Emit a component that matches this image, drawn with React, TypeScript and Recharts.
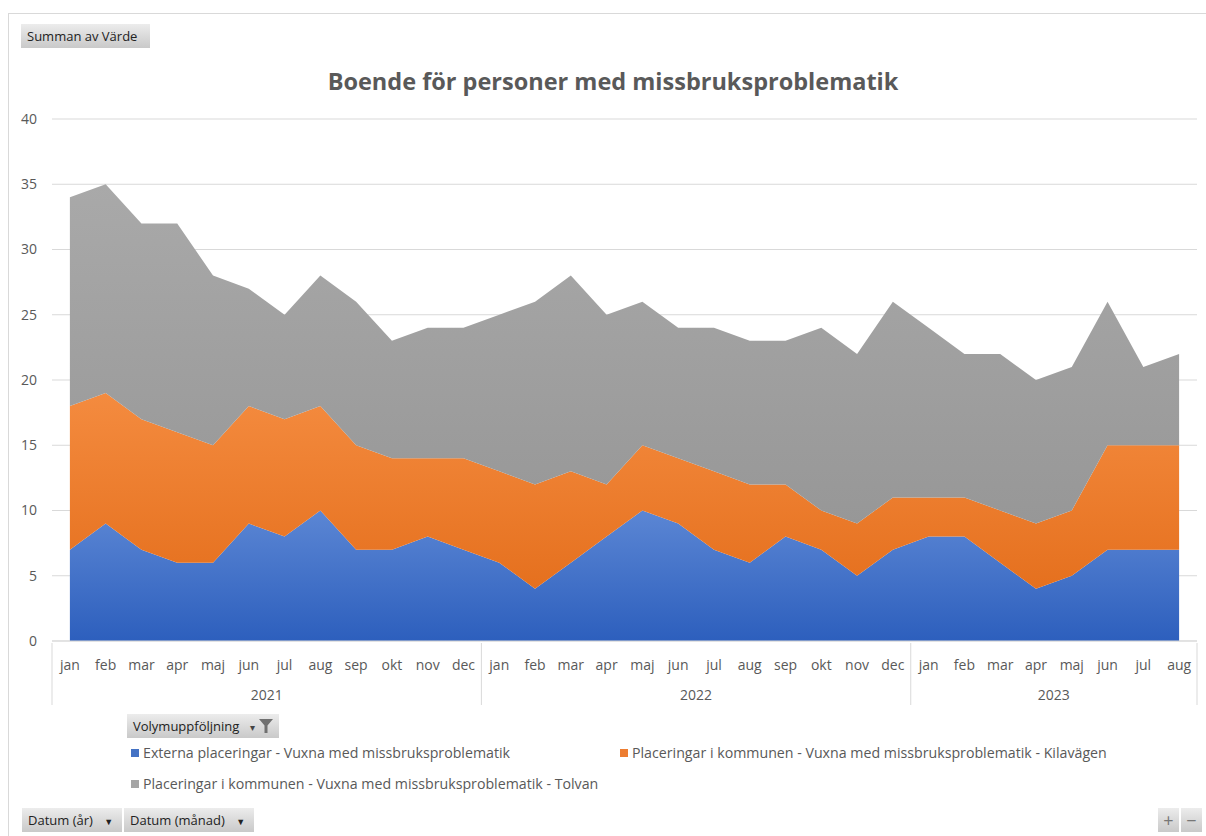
import React from "react";
import { AreaChart, Area, XAxis, YAxis, CartesianGrid } from "recharts";

// Month / year categories
const months = [
  "jan", "feb", "mar", "apr", "maj", "jun", "jul", "aug", "sep", "okt", "nov", "dec",
  "jan", "feb", "mar", "apr", "maj", "jun", "jul", "aug", "sep", "okt", "nov", "dec",
  "jan", "feb", "mar", "apr", "maj", "jun", "jul", "aug",
];
const years = [
  "2021", "2021", "2021", "2021", "2021", "2021", "2021", "2021", "2021", "2021", "2021", "2021",
  "2022", "2022", "2022", "2022", "2022", "2022", "2022", "2022", "2022", "2022", "2022", "2022",
  "2023", "2023", "2023", "2023", "2023", "2023", "2023", "2023",
];

// Series values (per series, stacked in the chart)
const externa = [7, 9, 7, 6, 6, 9, 8, 10, 7, 7, 8, 7, 6, 4, 6, 8, 10, 9, 7, 6, 8, 7, 5, 7, 8, 8, 6, 4, 5, 7, 7, 7];
const kilavagen = [11, 10, 10, 10, 9, 9, 9, 8, 8, 7, 6, 7, 7, 8, 7, 4, 5, 5, 6, 6, 4, 3, 4, 4, 3, 3, 4, 5, 5, 8, 8, 8];
const tolvan = [16, 16, 15, 16, 13, 9, 8, 10, 11, 9, 10, 10, 12, 14, 15, 13, 11, 10, 11, 11, 11, 14, 13, 15, 13, 11, 12, 11, 11, 11, 6, 7];

const yTicks = [0, 5, 10, 15, 20, 25, 30, 35, 40];

const seriesNames = {
  externa: "Externa placeringar - Vuxna med missbruksproblematik",
  kilavagen: "Placeringar i kommunen - Vuxna med missbruksproblematik - Kilavägen",
  tolvan: "Placeringar i kommunen - Vuxna med missbruksproblematik - Tolvan",
};

const data = months.map((m, i) => ({
  month: m,
  year: years[i],
  externa: externa[i],
  kilavagen: kilavagen[i],
  tolvan: tolvan[i],
}));

// plot area layout
const PLOT_LEFT = 52;
const PLOT_RIGHT = 1197;
const PLOT_TOP = 119;
const PLOT_BOTTOM = 641;
const STEP = (PLOT_RIGHT - PLOT_LEFT) / months.length;
const Y_AXIS_W = 40;
const X_AXIS_H = 62;

const FONT = "'Open Sans', 'Noto Sans', sans-serif";
const TEXT = "#595959";

const MonthTick = (props: any) => {
  const { x, y, payload } = props;
  const i = payload.index;
  const yr = years[i];
  const first = i === 0 || years[i - 1] !== yr;
  const last = i === years.length - 1;
  const count = years.filter((v) => v === yr).length;
  return (
    <g>
      <text x={x} y={y + 21} textAnchor="middle" dominantBaseline="central" fill={TEXT} fontSize={14} fontFamily={FONT}>
        {payload.value}
      </text>
      {first && (
        <>
          <line x1={x - STEP / 2} x2={x - STEP / 2} y1={y} y2={y + X_AXIS_H} stroke="#d9d9d9" />
          <text
            x={x + ((count - 1) * STEP) / 2}
            y={y + 51}
            textAnchor="middle"
            dominantBaseline="central"
            fill={TEXT}
            fontSize={14}
            fontFamily={FONT}
          >
            {yr}
          </text>
        </>
      )}
      {last && <line x1={x + STEP / 2} x2={x + STEP / 2} y1={y} y2={y + X_AXIS_H} stroke="#d9d9d9" />}
    </g>
  );
};

const btn: React.CSSProperties = {
  position: "absolute",
  background: "linear-gradient(#ececec, #c9c9c9)",
  fontFamily: FONT,
  fontSize: 13,
  color: "#222",
  height: 24,
  lineHeight: "24px",
  padding: "0 6px",
  boxSizing: "border-box",
  whiteSpace: "nowrap",
};

const legendItem = (color: string, label: string, left: number, top: number) => (
  <div
    style={{
      position: "absolute",
      left,
      top,
      fontFamily: FONT,
      fontSize: 14.2,
      color: TEXT,
      whiteSpace: "nowrap",
      display: "flex",
      alignItems: "center",
    }}
  >
    <span style={{ display: "inline-block", width: 8, height: 8, background: color, marginRight: 4 }} />
    {label}
  </div>
);

const App = () => {
  return (
    <div style={{ position: "fixed", left: 0, top: 0, width: 1206, height: 836, background: "#fff", overflow: "hidden" }}>
      {/* frame */}
      <div style={{ position: "absolute", left: 8, top: 13, width: 1198, height: 840, borderTop: "1px solid #d9d9d9", borderLeft: "1px solid #d9d9d9" }} />

      <div style={{ ...btn, left: 21, top: 24, width: 129 }}>Summan av Värde</div>

      <div
        style={{
          position: "absolute",
          left: 0,
          width: 1226,
          top: 65,
          textAlign: "center",
          fontFamily: FONT,
          fontWeight: 700,
          fontSize: 23.5,
          color: TEXT,
        }}
      >
        Boende för personer med missbruksproblematik
      </div>

      <div style={{ position: "absolute", left: 0, top: 0 }}>
        <AreaChart
          width={1206}
          height={836}
          data={data}
          margin={{ top: PLOT_TOP, right: 1206 - PLOT_RIGHT, bottom: 836 - PLOT_BOTTOM - X_AXIS_H, left: PLOT_LEFT - Y_AXIS_W }}
        >
          <defs>
            <linearGradient id="gBlue" x1="0" y1="0" x2="0" y2="1">
              <stop offset="0%" stopColor="#5b86d4" />
              <stop offset="100%" stopColor="#2d5fbd" />
            </linearGradient>
            <linearGradient id="gOrange" x1="0" y1="0" x2="0" y2="1">
              <stop offset="0%" stopColor="#f48b3f" />
              <stop offset="100%" stopColor="#e5701e" />
            </linearGradient>
            <linearGradient id="gGray" x1="0" y1="0" x2="0" y2="1">
              <stop offset="0%" stopColor="#a9a9a9" />
              <stop offset="100%" stopColor="#979797" />
            </linearGradient>
          </defs>
          <CartesianGrid vertical={false} stroke="#d9d9d9" />
          <XAxis
            dataKey="month"
            interval={0}
            height={X_AXIS_H}
            padding={{ left: STEP / 2, right: STEP / 2 }}
            tickLine={false}
            tickSize={0}
            stroke="#d9d9d9"
            tick={<MonthTick />}
          />
          <YAxis
            domain={[0, 40]}
            ticks={yTicks}
            width={Y_AXIS_W}
            axisLine={false}
            tickLine={false}
            tickSize={0}
            tickMargin={15}
            tick={{ fill: TEXT, fontSize: 14, fontFamily: FONT }}
          />
          <Area
            type="linear"
            dataKey="externa"
            name={seriesNames.externa}
            stackId="a"
            stroke="none"
            fill="url(#gBlue)"
            fillOpacity={1}
            isAnimationActive={false}
          />
          <Area
            type="linear"
            dataKey="kilavagen"
            name={seriesNames.kilavagen}
            stackId="a"
            stroke="none"
            fill="url(#gOrange)"
            fillOpacity={1}
            isAnimationActive={false}
          />
          <Area
            type="linear"
            dataKey="tolvan"
            name={seriesNames.tolvan}
            stackId="a"
            stroke="none"
            fill="url(#gGray)"
            fillOpacity={1}
            isAnimationActive={false}
          />
        </AreaChart>
      </div>

      {/* field button + legend */}
      <div style={{ ...btn, left: 127, top: 714, width: 152 }}>
        Volymuppföljning
        <span style={{ position: "absolute", right: 24, top: 1, color: "#444", fontSize: 10 }}>▾</span>
        <svg width={14} height={14} viewBox="0 0 14 14" style={{ position: "absolute", right: 6, top: 5 }}>
          <path d="M0 0 H14 L8.5 6.5 V14 H5.5 V6.5 Z" fill="#707070" />
        </svg>
      </div>
      {legendItem("#4472c4", seriesNames.externa, 131, 743)}
      {legendItem("#ed7d31", seriesNames.kilavagen, 620, 743)}
      {legendItem("#a5a5a5", seriesNames.tolvan, 131, 774)}

      <div style={{ ...btn, left: 22, top: 808, width: 100 }}>
        Datum (år) <span style={{ marginLeft: 8, fontSize: 9 }}>▼</span>
      </div>
      <div style={{ ...btn, left: 124, top: 808, width: 130 }}>
        Datum (månad) <span style={{ marginLeft: 8, fontSize: 9 }}>▼</span>
      </div>
      <div style={{ ...btn, left: 1158, top: 808, width: 21, padding: 0, textAlign: "center", fontSize: 18, color: "#777" }}>+</div>
      <div style={{ ...btn, left: 1181, top: 808, width: 21, padding: 0, textAlign: "center", fontSize: 18, color: "#777" }}>−</div>
    </div>
  );
};

export default App;
